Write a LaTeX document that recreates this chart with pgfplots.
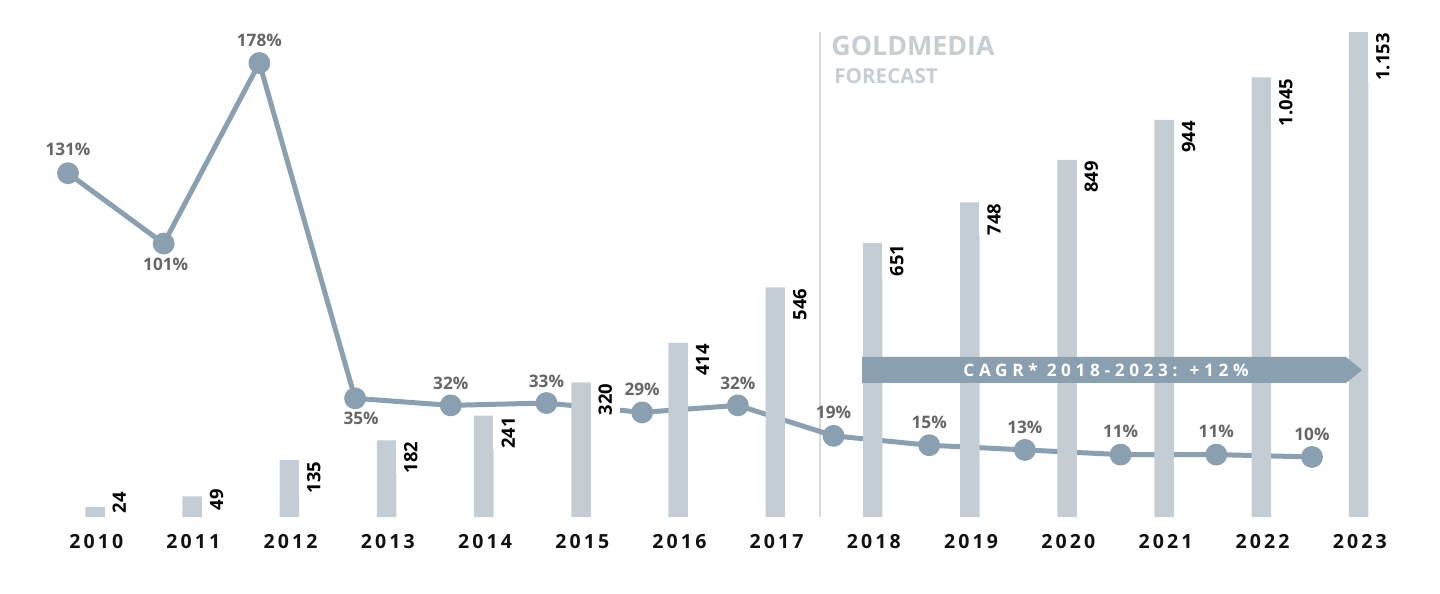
\documentclass[border=0pt]{standalone}
\usepackage{pgfplots}
\pgfplotsset{compat=1.18}
\usepackage{fontspec}
\setmainfont{Open Sans}
\newfontfamily\yrfont{Open Sans}[LetterSpace=16]
\newfontfamily\cagrfont{Open Sans}[LetterSpace=27]
\definecolor{barc}{HTML}{C4CDD3}
\definecolor{linec}{HTML}{8AA0B0}
\definecolor{pctc}{HTML}{666666}
\definecolor{vline}{HTML}{D3DADF}
\definecolor{gm}{HTML}{C6CED3}
\definecolor{yr}{HTML}{111111}
\begin{document}
\begin{tikzpicture}
\path[use as bounding box] (0,0) rectangle (720pt,297pt);
% forecast separator and heading
\begin{scope}[yshift=297pt, x=0.5pt, y=-0.5pt]
\draw[vline, line width=0.8pt] (820,32) -- (820,517);
\node[anchor=base west, inner sep=0, text=gm, font=\bfseries\fontsize{13.4}{16}\selectfont] at (831,56) {GOLDMEDIA};
\node[anchor=base west, inner sep=0, text=gm, font=\bfseries\fontsize{10.3}{12}\selectfont] at (834,84) {FORECAST};
\end{scope}
% growth line
\begin{axis}[at={(0,0)}, anchor=south west, width=720pt, height=297pt, scale only axis, hide axis,
  xmin=-0.7106, xmax=14.338, ymin=-48.44, ymax=204.87, clip=false]
\addplot[linec, line width=2.5pt, line join=round, mark=*, mark size=4.2pt,
  mark options={fill=linec, draw=none}] coordinates {
  (0,131) (1,101) (2,178) (3,35) (4,32) (5,33) (6,29) (7,32) (8,19) (9,15) (10,13) (11,11) (12,11) (13,10)};
\begin{scope}[every node/.style={text=pctc, font=\bfseries\fontsize{8.6}{10}\selectfont, inner sep=0, anchor=center}]
\node[yshift=12pt] at (axis cs:0,131) {131\%};
\node[yshift=-10.5pt, xshift=1pt] at (axis cs:1,101) {101\%};
\node[yshift=11.5pt] at (axis cs:2,178) {178\%};
\node[yshift=-10pt, xshift=3pt] at (axis cs:3,35) {35\%};
\node[yshift=11pt] at (axis cs:4,32) {32\%};
\node[yshift=11pt] at (axis cs:5,33) {33\%};
\node[yshift=11.5pt] at (axis cs:6,29) {29\%};
\node[yshift=11pt] at (axis cs:7,32) {32\%};
\node[yshift=11.5pt] at (axis cs:8,19) {19\%};
\node[yshift=11.5pt] at (axis cs:9,15) {15\%};
\node[yshift=11.5pt] at (axis cs:10,13) {13\%};
\node[yshift=11.5pt] at (axis cs:11,11) {11\%};
\node[yshift=11.5pt] at (axis cs:12,11) {11\%};
\node[yshift=11.5pt] at (axis cs:13,10) {10\%};
\end{scope}
\end{axis}
% bars
\begin{axis}[at={(0,0)}, anchor=south west, width=720pt, height=297pt, scale only axis, hide axis,
  xmin=-0.9774, xmax=13.837, ymin=-183.05, ymax=1229.1, clip=false]
\addplot[ybar, bar width=9.75pt, fill=barc, draw=none] coordinates {
  (0,24) (1,49) (2,135) (3,182) (4,241) (5,320) (6,414) (7,546) (8,651) (9,748) (10,849) (11,944) (12,1045) (13,1153)};
\begin{scope}[every node/.style={text=black, font=\bfseries\fontsize{9.2}{11}\selectfont, rotate=90, anchor=east, fill=white, inner xsep=0.5pt, inner ysep=4pt}]
\node at (axis cs:0.25,62) {24};
\node at (axis cs:1.25,69) {49};
\node at (axis cs:2.25,135) {135};
\node at (axis cs:3.25,182) {182};
\node at (axis cs:4.25,241) {241};
\node at (axis cs:5.25,320) {320};
\node at (axis cs:6.25,414) {414};
\node at (axis cs:7.25,546) {546};
\node at (axis cs:8.25,651) {651};
\node at (axis cs:9.25,748) {748};
\node at (axis cs:10.25,849) {849};
\node at (axis cs:11.25,944) {944};
\node at (axis cs:12.25,1045) {1.045};
\node at (axis cs:13.25,1153) {1.153};
\end{scope}
\begin{scope}[every node/.style={text=yr, font=\yrfont\bfseries\fontsize{9.75}{12}\selectfont, inner sep=0, anchor=center, yshift=-12.5pt, xshift=0.6pt}]
\node at (axis cs:0,0) {2010};
\node at (axis cs:1,0) {2011};
\node at (axis cs:2,0) {2012};
\node at (axis cs:3,0) {2013};
\node at (axis cs:4,0) {2014};
\node at (axis cs:5,0) {2015};
\node at (axis cs:6,0) {2016};
\node at (axis cs:7,0) {2017};
\node at (axis cs:8,0) {2018};
\node at (axis cs:9,0) {2019};
\node at (axis cs:10,0) {2020};
\node at (axis cs:11,0) {2021};
\node at (axis cs:12,0) {2022};
\node at (axis cs:13,0) {2023};
\end{scope}
\end{axis}
% CAGR arrow
\begin{scope}[yshift=297pt, x=0.5pt, y=-0.5pt]
\fill[linec] (862,357) -- (1346,357) -- (1362,370) -- (1346,383) -- (862,383) -- cycle;
\node[text=white, inner sep=0, font=\cagrfont\bfseries\fontsize{8.6}{10}\selectfont] at (1106,370) {CAGR* 2018-2023: +12\%};
\end{scope}
\end{tikzpicture}
\end{document}
